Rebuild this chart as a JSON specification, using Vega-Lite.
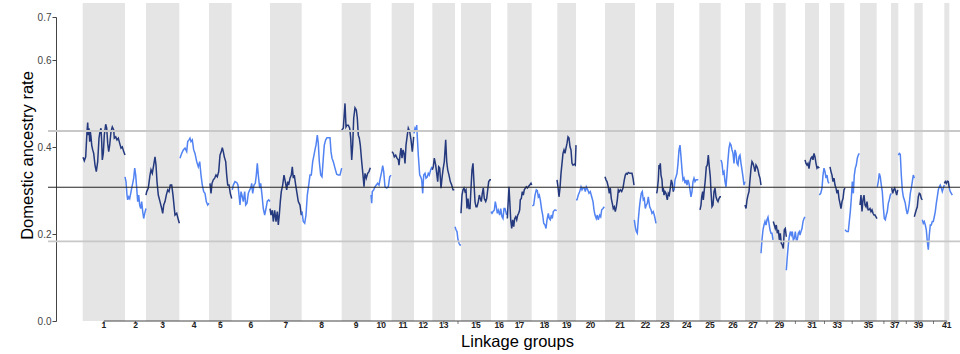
{
"$schema": "https://vega.github.io/schema/vega-lite/v6.json",
"width": 912, "height": 304,
"autosize": {"type": "none"},
"padding": {"left": 48, "top": 17, "right": 0, "bottom": 33},
"background": "white",
"config": {"view": {"stroke": null}, "font": "Liberation Sans"},
"datasets": {
"groups": [
{"group":1,"start":82.7,"end":125,"mid":103.9,"shown":true},
{"group":2,"start":125,"end":146,"mid":135.5,"shown":true},
{"group":3,"start":146,"end":179.3,"mid":162.7,"shown":true},
{"group":4,"start":179.3,"end":209,"mid":194.2,"shown":true},
{"group":5,"start":209,"end":231.7,"mid":220.4,"shown":true},
{"group":6,"start":231.7,"end":270,"mid":250.9,"shown":true},
{"group":7,"start":270,"end":301.7,"mid":285.9,"shown":true},
{"group":8,"start":301.7,"end":341.7,"mid":321.7,"shown":true},
{"group":9,"start":341.7,"end":370.7,"mid":356.2,"shown":true},
{"group":10,"start":370.7,"end":391.7,"mid":381.2,"shown":true},
{"group":11,"start":391.7,"end":414,"mid":402.9,"shown":true},
{"group":12,"start":414,"end":432.3,"mid":423.2,"shown":true},
{"group":13,"start":432.3,"end":455,"mid":443.7,"shown":true},
{"group":14,"start":455,"end":461,"mid":458,"shown":false},
{"group":15,"start":461,"end":491,"mid":476,"shown":true},
{"group":16,"start":491,"end":507.3,"mid":499.2,"shown":true},
{"group":17,"start":507.3,"end":531.7,"mid":519.5,"shown":true},
{"group":18,"start":531.7,"end":557.3,"mid":544.5,"shown":true},
{"group":19,"start":557.3,"end":576,"mid":566.7,"shown":true},
{"group":20,"start":576,"end":605,"mid":590.5,"shown":true},
{"group":21,"start":605,"end":635,"mid":620,"shown":true},
{"group":22,"start":635,"end":656,"mid":645.5,"shown":true},
{"group":23,"start":656,"end":674,"mid":665,"shown":true},
{"group":24,"start":674,"end":699.3,"mid":686.7,"shown":true},
{"group":25,"start":699.3,"end":720.7,"mid":710,"shown":true},
{"group":26,"start":720.7,"end":745,"mid":732.9,"shown":true},
{"group":27,"start":745,"end":760.7,"mid":752.9,"shown":true},
{"group":28,"start":760.7,"end":773.3,"mid":767,"shown":false},
{"group":29,"start":773.3,"end":785.7,"mid":779.5,"shown":true},
{"group":30,"start":785.7,"end":805,"mid":795.4,"shown":false},
{"group":31,"start":805,"end":819,"mid":812,"shown":true},
{"group":32,"start":819,"end":830,"mid":824.5,"shown":false},
{"group":33,"start":830,"end":844.3,"mid":837.2,"shown":true},
{"group":34,"start":844.3,"end":860,"mid":852.2,"shown":false},
{"group":35,"start":860,"end":876.7,"mid":868.4,"shown":true},
{"group":36,"start":876.7,"end":891,"mid":883.9,"shown":false},
{"group":37,"start":891,"end":898.3,"mid":894.7,"shown":true},
{"group":38,"start":898.3,"end":914.3,"mid":906.3,"shown":false},
{"group":39,"start":914.3,"end":922.7,"mid":918.5,"shown":true},
{"group":40,"start":922.7,"end":944.3,"mid":933.5,"shown":false},
{"group":41,"start":944.3,"end":949.3,"mid":946.8,"shown":true}
],
"refs": [
{"rate":0.4375,"kind":"upper"},
{"rate":0.308,"kind":"mean"},
{"rate":0.1835,"kind":"lower"}
],
"lines": [
{"group":1,"pos":83,"rate":0.377},{"group":1,"pos":84.3,"rate":0.369},{"group":1,"pos":85.7,"rate":0.378},{"group":1,"pos":87,"rate":0.436},{"group":1,"pos":87.7,"rate":0.457},{"group":1,"pos":88.3,"rate":0.428},{"group":1,"pos":89,"rate":0.444},{"group":1,"pos":89.7,"rate":0.413},{"group":1,"pos":90.3,"rate":0.436},{"group":1,"pos":91,"rate":0.424},{"group":1,"pos":91.7,"rate":0.405},{"group":1,"pos":92.7,"rate":0.394},{"group":1,"pos":93.7,"rate":0.386},{"group":1,"pos":95,"rate":0.359},{"group":1,"pos":96.3,"rate":0.344},{"group":1,"pos":97.7,"rate":0.367},{"group":1,"pos":99,"rate":0.421},{"group":1,"pos":100,"rate":0.436},{"group":1,"pos":101,"rate":0.444},{"group":1,"pos":101.7,"rate":0.413},{"group":1,"pos":102.3,"rate":0.371},{"group":1,"pos":103.3,"rate":0.386},{"group":1,"pos":104.3,"rate":0.428},{"group":1,"pos":105.7,"rate":0.453},{"group":1,"pos":106.7,"rate":0.444},{"group":1,"pos":107.7,"rate":0.409},{"group":1,"pos":108.7,"rate":0.39},{"group":1,"pos":109.7,"rate":0.405},{"group":1,"pos":111,"rate":0.436},{"group":1,"pos":112.3,"rate":0.447},{"group":1,"pos":113.7,"rate":0.44},{"group":1,"pos":114.3,"rate":0.421},{"group":1,"pos":115.7,"rate":0.424},{"group":1,"pos":117,"rate":0.417},{"group":1,"pos":118.3,"rate":0.421},{"group":1,"pos":119.7,"rate":0.409},{"group":1,"pos":121,"rate":0.398},{"group":1,"pos":122.3,"rate":0.401},{"group":1,"pos":123.7,"rate":0.39},{"group":1,"pos":125,"rate":0.382},
{"group":2,"pos":125,"rate":0.332},{"group":2,"pos":126,"rate":0.321},{"group":2,"pos":127,"rate":0.29},{"group":2,"pos":127.7,"rate":0.279},{"group":2,"pos":128.7,"rate":0.286},{"group":2,"pos":129.7,"rate":0.282},{"group":2,"pos":130.7,"rate":0.294},{"group":2,"pos":131.7,"rate":0.306},{"group":2,"pos":132.7,"rate":0.317},{"group":2,"pos":133.7,"rate":0.329},{"group":2,"pos":134.7,"rate":0.352},{"group":2,"pos":135.7,"rate":0.336},{"group":2,"pos":136.7,"rate":0.306},{"group":2,"pos":137.7,"rate":0.275},{"group":2,"pos":138.7,"rate":0.29},{"group":2,"pos":139.7,"rate":0.267},{"group":2,"pos":140.7,"rate":0.259},{"group":2,"pos":141.7,"rate":0.275},{"group":2,"pos":142.7,"rate":0.252},{"group":2,"pos":143.7,"rate":0.236},{"group":2,"pos":144.7,"rate":0.248},{"group":2,"pos":146,"rate":0.259},
{"group":3,"pos":146,"rate":0.29},{"group":3,"pos":146.7,"rate":0.298},{"group":3,"pos":148.3,"rate":0.306},{"group":3,"pos":150,"rate":0.336},{"group":3,"pos":151,"rate":0.348},{"group":3,"pos":152.3,"rate":0.34},{"group":3,"pos":153.7,"rate":0.359},{"group":3,"pos":155,"rate":0.378},{"group":3,"pos":156,"rate":0.359},{"group":3,"pos":157,"rate":0.321},{"group":3,"pos":158.3,"rate":0.29},{"group":3,"pos":160,"rate":0.275},{"group":3,"pos":161.7,"rate":0.259},{"group":3,"pos":162.7,"rate":0.248},{"group":3,"pos":163.7,"rate":0.267},{"group":3,"pos":165,"rate":0.275},{"group":3,"pos":166.3,"rate":0.29},{"group":3,"pos":167.7,"rate":0.302},{"group":3,"pos":169,"rate":0.298},{"group":3,"pos":170.3,"rate":0.313},{"group":3,"pos":171.7,"rate":0.313},{"group":3,"pos":173,"rate":0.29},{"group":3,"pos":174.3,"rate":0.259},{"group":3,"pos":175,"rate":0.244},{"group":3,"pos":176.7,"rate":0.248},{"group":3,"pos":178,"rate":0.236},{"group":3,"pos":179.3,"rate":0.225},
{"group":4,"pos":180,"rate":0.375},{"group":4,"pos":181.7,"rate":0.386},{"group":4,"pos":183.3,"rate":0.394},{"group":4,"pos":185,"rate":0.398},{"group":4,"pos":186.7,"rate":0.39},{"group":4,"pos":187.7,"rate":0.413},{"group":4,"pos":189,"rate":0.417},{"group":4,"pos":190,"rate":0.421},{"group":4,"pos":191,"rate":0.413},{"group":4,"pos":192.3,"rate":0.417},{"group":4,"pos":193.7,"rate":0.394},{"group":4,"pos":195,"rate":0.386},{"group":4,"pos":196.7,"rate":0.367},{"group":4,"pos":198.3,"rate":0.355},{"group":4,"pos":199.7,"rate":0.367},{"group":4,"pos":201,"rate":0.336},{"group":4,"pos":202.3,"rate":0.313},{"group":4,"pos":203.7,"rate":0.298},{"group":4,"pos":205,"rate":0.294},{"group":4,"pos":206.3,"rate":0.275},{"group":4,"pos":207.7,"rate":0.267},{"group":4,"pos":209,"rate":0.271},
{"group":5,"pos":210,"rate":0.317},{"group":5,"pos":211,"rate":0.294},{"group":5,"pos":212,"rate":0.317},{"group":5,"pos":213.3,"rate":0.325},{"group":5,"pos":214.7,"rate":0.329},{"group":5,"pos":216,"rate":0.336},{"group":5,"pos":217.3,"rate":0.332},{"group":5,"pos":218.7,"rate":0.344},{"group":5,"pos":220,"rate":0.382},{"group":5,"pos":221.3,"rate":0.39},{"group":5,"pos":222.3,"rate":0.399},{"group":5,"pos":223.3,"rate":0.39},{"group":5,"pos":224.3,"rate":0.378},{"group":5,"pos":225.7,"rate":0.367},{"group":5,"pos":226.7,"rate":0.336},{"group":5,"pos":227.7,"rate":0.313},{"group":5,"pos":229,"rate":0.313},{"group":5,"pos":230.3,"rate":0.294},{"group":5,"pos":231.7,"rate":0.282},
{"group":6,"pos":232.3,"rate":0.302},{"group":6,"pos":233.3,"rate":0.313},{"group":6,"pos":235,"rate":0.321},{"group":6,"pos":236.7,"rate":0.319},{"group":6,"pos":238,"rate":0.313},{"group":6,"pos":239,"rate":0.29},{"group":6,"pos":240,"rate":0.267},{"group":6,"pos":241,"rate":0.298},{"group":6,"pos":242,"rate":0.29},{"group":6,"pos":243.3,"rate":0.275},{"group":6,"pos":244.7,"rate":0.298},{"group":6,"pos":245.7,"rate":0.267},{"group":6,"pos":247,"rate":0.271},{"group":6,"pos":248.3,"rate":0.294},{"group":6,"pos":249.7,"rate":0.302},{"group":6,"pos":250.7,"rate":0.306},{"group":6,"pos":251.7,"rate":0.317},{"group":6,"pos":252.7,"rate":0.294},{"group":6,"pos":254,"rate":0.313},{"group":6,"pos":255.3,"rate":0.317},{"group":6,"pos":256.3,"rate":0.336},{"group":6,"pos":257.3,"rate":0.363},{"group":6,"pos":258.3,"rate":0.336},{"group":6,"pos":259.7,"rate":0.306},{"group":6,"pos":260.7,"rate":0.317},{"group":6,"pos":262,"rate":0.29},{"group":6,"pos":263.3,"rate":0.259},{"group":6,"pos":264.7,"rate":0.244},{"group":6,"pos":266,"rate":0.259},{"group":6,"pos":267.3,"rate":0.276},{"group":6,"pos":268.7,"rate":0.279},{"group":6,"pos":270,"rate":0.275},
{"group":7,"pos":270,"rate":0.259},{"group":7,"pos":271,"rate":0.244},{"group":7,"pos":272.3,"rate":0.255},{"group":7,"pos":273.3,"rate":0.229},{"group":7,"pos":274.7,"rate":0.255},{"group":7,"pos":276,"rate":0.229},{"group":7,"pos":277.3,"rate":0.252},{"group":7,"pos":278.3,"rate":0.221},{"group":7,"pos":279.3,"rate":0.244},{"group":7,"pos":280.3,"rate":0.275},{"group":7,"pos":281.3,"rate":0.298},{"group":7,"pos":282.7,"rate":0.313},{"group":7,"pos":284,"rate":0.336},{"group":7,"pos":285.3,"rate":0.321},{"group":7,"pos":286.7,"rate":0.302},{"group":7,"pos":287.7,"rate":0.321},{"group":7,"pos":288.7,"rate":0.313},{"group":7,"pos":290,"rate":0.329},{"group":7,"pos":291.3,"rate":0.336},{"group":7,"pos":292.3,"rate":0.355},{"group":7,"pos":293.3,"rate":0.329},{"group":7,"pos":294.3,"rate":0.336},{"group":7,"pos":295.7,"rate":0.313},{"group":7,"pos":297,"rate":0.294},{"group":7,"pos":298.3,"rate":0.275},{"group":7,"pos":300,"rate":0.267},{"group":7,"pos":301.3,"rate":0.244},{"group":7,"pos":302,"rate":0.252},
{"group":8,"pos":302,"rate":0.252},{"group":8,"pos":303.3,"rate":0.229},{"group":8,"pos":304.7,"rate":0.225},{"group":8,"pos":306,"rate":0.244},{"group":8,"pos":307.3,"rate":0.29},{"group":8,"pos":308.7,"rate":0.313},{"group":8,"pos":310,"rate":0.336},{"group":8,"pos":311.3,"rate":0.336},{"group":8,"pos":312.7,"rate":0.367},{"group":8,"pos":314,"rate":0.382},{"group":8,"pos":315.3,"rate":0.398},{"group":8,"pos":316,"rate":0.405},{"group":8,"pos":317.3,"rate":0.428},{"group":8,"pos":318.3,"rate":0.409},{"group":8,"pos":319.3,"rate":0.367},{"group":8,"pos":320.7,"rate":0.336},{"group":8,"pos":322,"rate":0.332},{"group":8,"pos":323.3,"rate":0.375},{"group":8,"pos":324.3,"rate":0.405},{"group":8,"pos":325.7,"rate":0.417},{"group":8,"pos":327,"rate":0.422},{"group":8,"pos":328.7,"rate":0.422},{"group":8,"pos":330,"rate":0.422},{"group":8,"pos":331,"rate":0.39},{"group":8,"pos":332,"rate":0.375},{"group":8,"pos":333.3,"rate":0.367},{"group":8,"pos":335,"rate":0.352},{"group":8,"pos":336.7,"rate":0.338},{"group":8,"pos":338.3,"rate":0.336},{"group":8,"pos":340,"rate":0.336},{"group":8,"pos":341.7,"rate":0.352},
{"group":9,"pos":341.7,"rate":0.44},{"group":9,"pos":343.3,"rate":0.444},{"group":9,"pos":345,"rate":0.501},{"group":9,"pos":346,"rate":0.447},{"group":9,"pos":347,"rate":0.451},{"group":9,"pos":348.3,"rate":0.451},{"group":9,"pos":349.7,"rate":0.444},{"group":9,"pos":350.7,"rate":0.421},{"group":9,"pos":351.7,"rate":0.371},{"group":9,"pos":352.7,"rate":0.405},{"group":9,"pos":353.7,"rate":0.467},{"group":9,"pos":355,"rate":0.491},{"group":9,"pos":356.3,"rate":0.486},{"group":9,"pos":357.3,"rate":0.467},{"group":9,"pos":358.3,"rate":0.428},{"group":9,"pos":359.3,"rate":0.421},{"group":9,"pos":360.3,"rate":0.405},{"group":9,"pos":361.7,"rate":0.367},{"group":9,"pos":363,"rate":0.336},{"group":9,"pos":364,"rate":0.309},{"group":9,"pos":365,"rate":0.34},{"group":9,"pos":366.3,"rate":0.329},{"group":9,"pos":367.7,"rate":0.34},{"group":9,"pos":369,"rate":0.344},{"group":9,"pos":370.3,"rate":0.353},
{"group":10,"pos":371,"rate":0.29},{"group":10,"pos":371.7,"rate":0.271},{"group":10,"pos":372.3,"rate":0.298},{"group":10,"pos":373.7,"rate":0.302},{"group":10,"pos":375,"rate":0.309},{"group":10,"pos":376.3,"rate":0.313},{"group":10,"pos":377.7,"rate":0.317},{"group":10,"pos":379,"rate":0.313},{"group":10,"pos":380.3,"rate":0.329},{"group":10,"pos":381.7,"rate":0.344},{"group":10,"pos":382.7,"rate":0.358},{"group":10,"pos":383.7,"rate":0.344},{"group":10,"pos":385,"rate":0.309},{"group":10,"pos":386.7,"rate":0.306},{"group":10,"pos":388.3,"rate":0.309},{"group":10,"pos":389.7,"rate":0.332},{"group":10,"pos":391,"rate":0.336},
{"group":11,"pos":392,"rate":0.39},{"group":11,"pos":393.3,"rate":0.386},{"group":11,"pos":394.3,"rate":0.378},{"group":11,"pos":395.7,"rate":0.382},{"group":11,"pos":397,"rate":0.375},{"group":11,"pos":398.3,"rate":0.371},{"group":11,"pos":399,"rate":0.359},{"group":11,"pos":400,"rate":0.382},{"group":11,"pos":401,"rate":0.398},{"group":11,"pos":402,"rate":0.375},{"group":11,"pos":403,"rate":0.394},{"group":11,"pos":404,"rate":0.386},{"group":11,"pos":405,"rate":0.363},{"group":11,"pos":406,"rate":0.405},{"group":11,"pos":407.3,"rate":0.428},{"group":11,"pos":408.3,"rate":0.444},{"group":11,"pos":409.7,"rate":0.436},{"group":11,"pos":411,"rate":0.417},{"group":11,"pos":412.3,"rate":0.39},{"group":11,"pos":413.7,"rate":0.424},
{"group":12,"pos":414,"rate":0.432},{"group":12,"pos":415,"rate":0.444},{"group":12,"pos":416,"rate":0.44},{"group":12,"pos":416.7,"rate":0.451},{"group":12,"pos":417.3,"rate":0.424},{"group":12,"pos":418.3,"rate":0.382},{"group":12,"pos":419.7,"rate":0.336},{"group":12,"pos":420.7,"rate":0.332},{"group":12,"pos":421.7,"rate":0.325},{"group":12,"pos":422.7,"rate":0.294},{"group":12,"pos":423.7,"rate":0.336},{"group":12,"pos":425,"rate":0.34},{"group":12,"pos":426,"rate":0.329},{"group":12,"pos":427.3,"rate":0.332},{"group":12,"pos":428.3,"rate":0.34},{"group":12,"pos":429.3,"rate":0.336},{"group":12,"pos":430.7,"rate":0.348},{"group":12,"pos":432,"rate":0.355},
{"group":13,"pos":432.3,"rate":0.348},{"group":13,"pos":433.3,"rate":0.355},{"group":13,"pos":434.3,"rate":0.375},{"group":13,"pos":435.7,"rate":0.359},{"group":13,"pos":436.7,"rate":0.34},{"group":13,"pos":437.7,"rate":0.321},{"group":13,"pos":438.7,"rate":0.355},{"group":13,"pos":439.7,"rate":0.352},{"group":13,"pos":441,"rate":0.306},{"group":13,"pos":442,"rate":0.329},{"group":13,"pos":443,"rate":0.348},{"group":13,"pos":444.3,"rate":0.367},{"group":13,"pos":445.7,"rate":0.417},{"group":13,"pos":446.7,"rate":0.367},{"group":13,"pos":447.7,"rate":0.348},{"group":13,"pos":449,"rate":0.336},{"group":13,"pos":450.3,"rate":0.321},{"group":13,"pos":451.7,"rate":0.313},{"group":13,"pos":453,"rate":0.302},{"group":13,"pos":454.3,"rate":0.302},
{"group":14,"pos":455,"rate":0.217},{"group":14,"pos":456,"rate":0.21},{"group":14,"pos":457,"rate":0.206},{"group":14,"pos":458,"rate":0.187},{"group":14,"pos":459,"rate":0.179},{"group":14,"pos":460,"rate":0.175},{"group":14,"pos":461,"rate":0.175},
{"group":15,"pos":461,"rate":0.248},{"group":15,"pos":462,"rate":0.29},{"group":15,"pos":463,"rate":0.302},{"group":15,"pos":464,"rate":0.306},{"group":15,"pos":465,"rate":0.298},{"group":15,"pos":466,"rate":0.302},{"group":15,"pos":467,"rate":0.259},{"group":15,"pos":468,"rate":0.282},{"group":15,"pos":469,"rate":0.259},{"group":15,"pos":470,"rate":0.259},{"group":15,"pos":471,"rate":0.306},{"group":15,"pos":472,"rate":0.348},{"group":15,"pos":473,"rate":0.363},{"group":15,"pos":474,"rate":0.317},{"group":15,"pos":475,"rate":0.275},{"group":15,"pos":476,"rate":0.263},{"group":15,"pos":477,"rate":0.263},{"group":15,"pos":478.3,"rate":0.275},{"group":15,"pos":479.3,"rate":0.29},{"group":15,"pos":480.3,"rate":0.282},{"group":15,"pos":481.3,"rate":0.275},{"group":15,"pos":482.3,"rate":0.294},{"group":15,"pos":483.3,"rate":0.306},{"group":15,"pos":484.3,"rate":0.282},{"group":15,"pos":485.7,"rate":0.275},{"group":15,"pos":486.7,"rate":0.282},{"group":15,"pos":487.7,"rate":0.302},{"group":15,"pos":488.7,"rate":0.321},{"group":15,"pos":490,"rate":0.325},{"group":15,"pos":491,"rate":0.325},
{"group":16,"pos":491,"rate":0.252},{"group":16,"pos":492,"rate":0.248},{"group":16,"pos":493,"rate":0.252},{"group":16,"pos":494.3,"rate":0.255},{"group":16,"pos":495.3,"rate":0.275},{"group":16,"pos":496.3,"rate":0.263},{"group":16,"pos":497.3,"rate":0.248},{"group":16,"pos":498.3,"rate":0.255},{"group":16,"pos":499.7,"rate":0.244},{"group":16,"pos":500.7,"rate":0.259},{"group":16,"pos":502,"rate":0.24},{"group":16,"pos":503,"rate":0.236},{"group":16,"pos":504,"rate":0.259},{"group":16,"pos":505,"rate":0.259},{"group":16,"pos":506.7,"rate":0.244},
{"group":17,"pos":507.3,"rate":0.236},{"group":17,"pos":508.3,"rate":0.279},{"group":17,"pos":509,"rate":0.309},{"group":17,"pos":509.7,"rate":0.279},{"group":17,"pos":510.7,"rate":0.233},{"group":17,"pos":511.7,"rate":0.213},{"group":17,"pos":512.7,"rate":0.233},{"group":17,"pos":513.7,"rate":0.217},{"group":17,"pos":514.7,"rate":0.236},{"group":17,"pos":515.7,"rate":0.24},{"group":17,"pos":516.7,"rate":0.233},{"group":17,"pos":517.7,"rate":0.244},{"group":17,"pos":518.7,"rate":0.248},{"group":17,"pos":519.7,"rate":0.256},{"group":17,"pos":520.3,"rate":0.279},{"group":17,"pos":521.3,"rate":0.282},{"group":17,"pos":522.3,"rate":0.298},{"group":17,"pos":523.3,"rate":0.29},{"group":17,"pos":524.3,"rate":0.302},{"group":17,"pos":525.3,"rate":0.306},{"group":17,"pos":526.3,"rate":0.309},{"group":17,"pos":527.3,"rate":0.306},{"group":17,"pos":528.3,"rate":0.309},{"group":17,"pos":529.7,"rate":0.313},{"group":17,"pos":531,"rate":0.317},{"group":17,"pos":531.7,"rate":0.313},
{"group":18,"pos":532.3,"rate":0.265},{"group":18,"pos":533.7,"rate":0.267},{"group":18,"pos":535,"rate":0.29},{"group":18,"pos":536.3,"rate":0.302},{"group":18,"pos":537.3,"rate":0.3},{"group":18,"pos":538.3,"rate":0.286},{"group":18,"pos":539.3,"rate":0.29},{"group":18,"pos":540.3,"rate":0.279},{"group":18,"pos":541.7,"rate":0.256},{"group":18,"pos":542.7,"rate":0.244},{"group":18,"pos":543.7,"rate":0.225},{"group":18,"pos":545,"rate":0.221},{"group":18,"pos":546,"rate":0.213},{"group":18,"pos":547,"rate":0.233},{"group":18,"pos":548.3,"rate":0.248},{"group":18,"pos":549.3,"rate":0.236},{"group":18,"pos":550.3,"rate":0.233},{"group":18,"pos":551.3,"rate":0.244},{"group":18,"pos":552.3,"rate":0.236},{"group":18,"pos":553.3,"rate":0.252},{"group":18,"pos":555,"rate":0.256},{"group":18,"pos":556.7,"rate":0.254},
{"group":19,"pos":557,"rate":0.325},{"group":19,"pos":558,"rate":0.309},{"group":19,"pos":559,"rate":0.286},{"group":19,"pos":560,"rate":0.306},{"group":19,"pos":561,"rate":0.34},{"group":19,"pos":562,"rate":0.363},{"group":19,"pos":563,"rate":0.386},{"group":19,"pos":564,"rate":0.394},{"group":19,"pos":565,"rate":0.386},{"group":19,"pos":566,"rate":0.398},{"group":19,"pos":567,"rate":0.409},{"group":19,"pos":568,"rate":0.424},{"group":19,"pos":569,"rate":0.421},{"group":19,"pos":570,"rate":0.401},{"group":19,"pos":571,"rate":0.394},{"group":19,"pos":572,"rate":0.363},{"group":19,"pos":573,"rate":0.359},{"group":19,"pos":574.3,"rate":0.361},{"group":19,"pos":575.3,"rate":0.359},{"group":19,"pos":576,"rate":0.405},
{"group":20,"pos":576,"rate":0.279},{"group":20,"pos":577,"rate":0.279},{"group":20,"pos":578.3,"rate":0.29},{"group":20,"pos":579.7,"rate":0.298},{"group":20,"pos":581,"rate":0.309},{"group":20,"pos":582,"rate":0.302},{"group":20,"pos":583,"rate":0.306},{"group":20,"pos":584.3,"rate":0.306},{"group":20,"pos":585.3,"rate":0.298},{"group":20,"pos":586.3,"rate":0.309},{"group":20,"pos":587.7,"rate":0.302},{"group":20,"pos":589,"rate":0.294},{"group":20,"pos":590.3,"rate":0.298},{"group":20,"pos":591.7,"rate":0.286},{"group":20,"pos":593,"rate":0.275},{"group":20,"pos":594,"rate":0.256},{"group":20,"pos":595,"rate":0.244},{"group":20,"pos":596.3,"rate":0.236},{"group":20,"pos":597.3,"rate":0.244},{"group":20,"pos":598.3,"rate":0.233},{"group":20,"pos":599.7,"rate":0.244},{"group":20,"pos":600.7,"rate":0.24},{"group":20,"pos":601.7,"rate":0.256},{"group":20,"pos":603,"rate":0.259},{"group":20,"pos":604.3,"rate":0.263},
{"group":21,"pos":605,"rate":0.332},{"group":21,"pos":606,"rate":0.325},{"group":21,"pos":607,"rate":0.321},{"group":21,"pos":608.3,"rate":0.309},{"group":21,"pos":609.3,"rate":0.294},{"group":21,"pos":610.3,"rate":0.306},{"group":21,"pos":611.3,"rate":0.282},{"group":21,"pos":612.3,"rate":0.271},{"group":21,"pos":613.3,"rate":0.259},{"group":21,"pos":614.3,"rate":0.263},{"group":21,"pos":615.3,"rate":0.252},{"group":21,"pos":616.3,"rate":0.263},{"group":21,"pos":617.3,"rate":0.279},{"group":21,"pos":618.3,"rate":0.302},{"group":21,"pos":619.3,"rate":0.298},{"group":21,"pos":620.3,"rate":0.302},{"group":21,"pos":621.7,"rate":0.298},{"group":21,"pos":623,"rate":0.306},{"group":21,"pos":624.3,"rate":0.325},{"group":21,"pos":625.3,"rate":0.336},{"group":21,"pos":626.3,"rate":0.34},{"group":21,"pos":627.3,"rate":0.338},{"group":21,"pos":628.3,"rate":0.342},{"group":21,"pos":629.7,"rate":0.34},{"group":21,"pos":631,"rate":0.34},{"group":21,"pos":632,"rate":0.34},{"group":21,"pos":633,"rate":0.329},{"group":21,"pos":634,"rate":0.313},
{"group":22,"pos":634.3,"rate":0.233},{"group":22,"pos":635.3,"rate":0.217},{"group":22,"pos":636.3,"rate":0.206},{"group":22,"pos":637.3,"rate":0.202},{"group":22,"pos":638.3,"rate":0.233},{"group":22,"pos":639.3,"rate":0.259},{"group":22,"pos":640.3,"rate":0.279},{"group":22,"pos":641.3,"rate":0.294},{"group":22,"pos":642.3,"rate":0.298},{"group":22,"pos":643.3,"rate":0.279},{"group":22,"pos":644.3,"rate":0.282},{"group":22,"pos":645.3,"rate":0.259},{"group":22,"pos":646.3,"rate":0.267},{"group":22,"pos":647.3,"rate":0.271},{"group":22,"pos":648.3,"rate":0.286},{"group":22,"pos":649.7,"rate":0.263},{"group":22,"pos":651,"rate":0.256},{"group":22,"pos":652,"rate":0.248},{"group":22,"pos":653.3,"rate":0.252},{"group":22,"pos":654.7,"rate":0.24},{"group":22,"pos":656,"rate":0.225},
{"group":23,"pos":656.7,"rate":0.294},{"group":23,"pos":657.3,"rate":0.302},{"group":23,"pos":658.3,"rate":0.325},{"group":23,"pos":659,"rate":0.359},{"group":23,"pos":659.7,"rate":0.355},{"group":23,"pos":660.3,"rate":0.363},{"group":23,"pos":661,"rate":0.336},{"group":23,"pos":662,"rate":0.325},{"group":23,"pos":662.7,"rate":0.298},{"group":23,"pos":663.3,"rate":0.306},{"group":23,"pos":664,"rate":0.29},{"group":23,"pos":665,"rate":0.298},{"group":23,"pos":666,"rate":0.294},{"group":23,"pos":666.7,"rate":0.286},{"group":23,"pos":667.3,"rate":0.279},{"group":23,"pos":668.3,"rate":0.294},{"group":23,"pos":669.3,"rate":0.29},{"group":23,"pos":670.3,"rate":0.306},{"group":23,"pos":671.3,"rate":0.325},{"group":23,"pos":672.3,"rate":0.317},{"group":23,"pos":673.3,"rate":0.298},{"group":23,"pos":674,"rate":0.306},
{"group":24,"pos":674,"rate":0.302},{"group":24,"pos":675,"rate":0.325},{"group":24,"pos":676,"rate":0.332},{"group":24,"pos":677,"rate":0.34},{"group":24,"pos":678,"rate":0.363},{"group":24,"pos":679,"rate":0.394},{"group":24,"pos":680,"rate":0.405},{"group":24,"pos":681,"rate":0.378},{"group":24,"pos":682,"rate":0.348},{"group":24,"pos":683,"rate":0.325},{"group":24,"pos":684,"rate":0.329},{"group":24,"pos":685,"rate":0.317},{"group":24,"pos":686,"rate":0.325},{"group":24,"pos":687,"rate":0.313},{"group":24,"pos":688,"rate":0.325},{"group":24,"pos":689,"rate":0.317},{"group":24,"pos":690,"rate":0.302},{"group":24,"pos":691,"rate":0.286},{"group":24,"pos":692,"rate":0.298},{"group":24,"pos":693,"rate":0.321},{"group":24,"pos":694,"rate":0.329},{"group":24,"pos":695,"rate":0.321},{"group":24,"pos":696,"rate":0.325},{"group":24,"pos":697,"rate":0.325},{"group":24,"pos":698.3,"rate":0.325},
{"group":25,"pos":700,"rate":0.256},{"group":25,"pos":701,"rate":0.267},{"group":25,"pos":701.7,"rate":0.286},{"group":25,"pos":702.7,"rate":0.298},{"group":25,"pos":703.3,"rate":0.279},{"group":25,"pos":704.3,"rate":0.302},{"group":25,"pos":705.3,"rate":0.325},{"group":25,"pos":706.3,"rate":0.355},{"group":25,"pos":707.3,"rate":0.359},{"group":25,"pos":708.3,"rate":0.382},{"group":25,"pos":709.3,"rate":0.355},{"group":25,"pos":710.3,"rate":0.332},{"group":25,"pos":711,"rate":0.298},{"group":25,"pos":712,"rate":0.263},{"group":25,"pos":713,"rate":0.267},{"group":25,"pos":714,"rate":0.298},{"group":25,"pos":715,"rate":0.306},{"group":25,"pos":716,"rate":0.286},{"group":25,"pos":717,"rate":0.279},{"group":25,"pos":718,"rate":0.275},{"group":25,"pos":719,"rate":0.282},{"group":25,"pos":720,"rate":0.286},{"group":25,"pos":721,"rate":0.286},
{"group":26,"pos":721,"rate":0.371},{"group":26,"pos":722,"rate":0.363},{"group":26,"pos":723,"rate":0.34},{"group":26,"pos":724,"rate":0.344},{"group":26,"pos":725,"rate":0.321},{"group":26,"pos":726,"rate":0.309},{"group":26,"pos":727,"rate":0.34},{"group":26,"pos":728,"rate":0.371},{"group":26,"pos":729,"rate":0.398},{"group":26,"pos":730,"rate":0.409},{"group":26,"pos":731,"rate":0.405},{"group":26,"pos":732,"rate":0.394},{"group":26,"pos":733,"rate":0.386},{"group":26,"pos":734,"rate":0.363},{"group":26,"pos":735,"rate":0.394},{"group":26,"pos":736,"rate":0.386},{"group":26,"pos":737,"rate":0.363},{"group":26,"pos":738,"rate":0.359},{"group":26,"pos":739,"rate":0.378},{"group":26,"pos":740,"rate":0.382},{"group":26,"pos":741,"rate":0.363},{"group":26,"pos":742,"rate":0.348},{"group":26,"pos":743,"rate":0.332},{"group":26,"pos":744,"rate":0.313},{"group":26,"pos":745,"rate":0.321},
{"group":27,"pos":745,"rate":0.267},{"group":27,"pos":746,"rate":0.259},{"group":27,"pos":747,"rate":0.279},{"group":27,"pos":748,"rate":0.29},{"group":27,"pos":749,"rate":0.298},{"group":27,"pos":750,"rate":0.325},{"group":27,"pos":751,"rate":0.351},{"group":27,"pos":752,"rate":0.367},{"group":27,"pos":753,"rate":0.363},{"group":27,"pos":754,"rate":0.355},{"group":27,"pos":755,"rate":0.344},{"group":27,"pos":756,"rate":0.359},{"group":27,"pos":757,"rate":0.355},{"group":27,"pos":758,"rate":0.348},{"group":27,"pos":759,"rate":0.336},{"group":27,"pos":760,"rate":0.329},{"group":27,"pos":761,"rate":0.313},
{"group":28,"pos":761,"rate":0.156},{"group":28,"pos":762,"rate":0.187},{"group":28,"pos":763,"rate":0.21},{"group":28,"pos":764,"rate":0.221},{"group":28,"pos":765,"rate":0.229},{"group":28,"pos":766,"rate":0.221},{"group":28,"pos":767,"rate":0.233},{"group":28,"pos":768,"rate":0.239},{"group":28,"pos":769,"rate":0.225},{"group":28,"pos":770,"rate":0.21},{"group":28,"pos":771,"rate":0.202},{"group":28,"pos":772,"rate":0.202},{"group":28,"pos":773,"rate":0.187},
{"group":29,"pos":773.3,"rate":0.229},{"group":29,"pos":774.3,"rate":0.221},{"group":29,"pos":775.3,"rate":0.213},{"group":29,"pos":776.3,"rate":0.221},{"group":29,"pos":777.3,"rate":0.202},{"group":29,"pos":778.3,"rate":0.21},{"group":29,"pos":779.3,"rate":0.187},{"group":29,"pos":780.3,"rate":0.202},{"group":29,"pos":781.3,"rate":0.179},{"group":29,"pos":782.3,"rate":0.175},{"group":29,"pos":783.3,"rate":0.167},{"group":29,"pos":784.3,"rate":0.21},{"group":29,"pos":785.3,"rate":0.213},{"group":29,"pos":786.3,"rate":0.194},
{"group":30,"pos":786.3,"rate":0.117},{"group":30,"pos":787.3,"rate":0.148},{"group":30,"pos":788.3,"rate":0.175},{"group":30,"pos":789.3,"rate":0.194},{"group":30,"pos":790.3,"rate":0.206},{"group":30,"pos":791.3,"rate":0.198},{"group":30,"pos":792.3,"rate":0.206},{"group":30,"pos":793.3,"rate":0.187},{"group":30,"pos":794.3,"rate":0.19},{"group":30,"pos":795.3,"rate":0.206},{"group":30,"pos":796.3,"rate":0.187},{"group":30,"pos":797.3,"rate":0.187},{"group":30,"pos":798.3,"rate":0.202},{"group":30,"pos":799.3,"rate":0.206},{"group":30,"pos":800,"rate":0.198},{"group":30,"pos":801,"rate":0.206},{"group":30,"pos":802,"rate":0.213},{"group":30,"pos":803,"rate":0.229},{"group":30,"pos":804,"rate":0.236},{"group":30,"pos":805,"rate":0.24},
{"group":31,"pos":805,"rate":0.371},{"group":31,"pos":806,"rate":0.363},{"group":31,"pos":807,"rate":0.359},{"group":31,"pos":808,"rate":0.363},{"group":31,"pos":809,"rate":0.351},{"group":31,"pos":810,"rate":0.367},{"group":31,"pos":811,"rate":0.375},{"group":31,"pos":812,"rate":0.378},{"group":31,"pos":813,"rate":0.371},{"group":31,"pos":814,"rate":0.386},{"group":31,"pos":815,"rate":0.378},{"group":31,"pos":816,"rate":0.363},{"group":31,"pos":817,"rate":0.352},{"group":31,"pos":818,"rate":0.355},{"group":31,"pos":819.3,"rate":0.352},
{"group":32,"pos":819.3,"rate":0.29},{"group":32,"pos":820.7,"rate":0.294},{"group":32,"pos":822,"rate":0.306},{"group":32,"pos":823,"rate":0.336},{"group":32,"pos":824,"rate":0.352},{"group":32,"pos":825,"rate":0.344},{"group":32,"pos":826,"rate":0.329},{"group":32,"pos":827,"rate":0.336},{"group":32,"pos":828,"rate":0.321},{"group":32,"pos":829,"rate":0.317},
{"group":33,"pos":830,"rate":0.355},{"group":33,"pos":831,"rate":0.344},{"group":33,"pos":832,"rate":0.336},{"group":33,"pos":833,"rate":0.321},{"group":33,"pos":834,"rate":0.329},{"group":33,"pos":835,"rate":0.313},{"group":33,"pos":836,"rate":0.306},{"group":33,"pos":837,"rate":0.294},{"group":33,"pos":838,"rate":0.302},{"group":33,"pos":839,"rate":0.282},{"group":33,"pos":840,"rate":0.271},{"group":33,"pos":841,"rate":0.259},{"group":33,"pos":842,"rate":0.275},{"group":33,"pos":843,"rate":0.282},{"group":33,"pos":844,"rate":0.302},{"group":33,"pos":845,"rate":0.306},
{"group":34,"pos":845,"rate":0.21},{"group":34,"pos":846.7,"rate":0.206},{"group":34,"pos":848.3,"rate":0.206},{"group":34,"pos":849.3,"rate":0.229},{"group":34,"pos":850.3,"rate":0.252},{"group":34,"pos":851.3,"rate":0.282},{"group":34,"pos":852.3,"rate":0.321},{"group":34,"pos":853.3,"rate":0.294},{"group":34,"pos":854.3,"rate":0.336},{"group":34,"pos":855.3,"rate":0.352},{"group":34,"pos":856.3,"rate":0.359},{"group":34,"pos":857.3,"rate":0.375},{"group":34,"pos":858.3,"rate":0.382},{"group":34,"pos":859.3,"rate":0.386},
{"group":35,"pos":860,"rate":0.267},{"group":35,"pos":861,"rate":0.29},{"group":35,"pos":862,"rate":0.252},{"group":35,"pos":863,"rate":0.279},{"group":35,"pos":864,"rate":0.29},{"group":35,"pos":865,"rate":0.267},{"group":35,"pos":866,"rate":0.263},{"group":35,"pos":867,"rate":0.275},{"group":35,"pos":868,"rate":0.256},{"group":35,"pos":869,"rate":0.256},{"group":35,"pos":870,"rate":0.259},{"group":35,"pos":871,"rate":0.252},{"group":35,"pos":872,"rate":0.256},{"group":35,"pos":873,"rate":0.248},{"group":35,"pos":874,"rate":0.244},{"group":35,"pos":875,"rate":0.244},{"group":35,"pos":876,"rate":0.24},{"group":35,"pos":877,"rate":0.236},
{"group":36,"pos":877.3,"rate":0.309},{"group":36,"pos":878.3,"rate":0.321},{"group":36,"pos":879.3,"rate":0.34},{"group":36,"pos":880.3,"rate":0.332},{"group":36,"pos":881.3,"rate":0.313},{"group":36,"pos":882.3,"rate":0.298},{"group":36,"pos":883.3,"rate":0.263},{"group":36,"pos":884.3,"rate":0.236},{"group":36,"pos":885.3,"rate":0.233},{"group":36,"pos":886.3,"rate":0.244},{"group":36,"pos":887.3,"rate":0.252},{"group":36,"pos":888.3,"rate":0.271},{"group":36,"pos":889.3,"rate":0.279},{"group":36,"pos":890.3,"rate":0.29},{"group":36,"pos":891.3,"rate":0.294},
{"group":37,"pos":891.7,"rate":0.306},{"group":37,"pos":892.7,"rate":0.294},{"group":37,"pos":893.7,"rate":0.302},{"group":37,"pos":894.7,"rate":0.306},{"group":37,"pos":895.7,"rate":0.298},{"group":37,"pos":896.7,"rate":0.29},{"group":37,"pos":897.7,"rate":0.302},
{"group":38,"pos":898.3,"rate":0.382},{"group":38,"pos":899.3,"rate":0.386},{"group":38,"pos":900.3,"rate":0.384},{"group":38,"pos":901.3,"rate":0.336},{"group":38,"pos":902.3,"rate":0.302},{"group":38,"pos":903.3,"rate":0.286},{"group":38,"pos":904.3,"rate":0.279},{"group":38,"pos":905.3,"rate":0.271},{"group":38,"pos":906.3,"rate":0.256},{"group":38,"pos":907.3,"rate":0.246},{"group":38,"pos":908.3,"rate":0.256},{"group":38,"pos":909.3,"rate":0.271},{"group":38,"pos":910.3,"rate":0.294},{"group":38,"pos":911.3,"rate":0.306},{"group":38,"pos":912.3,"rate":0.321},{"group":38,"pos":913.3,"rate":0.336},{"group":38,"pos":914.3,"rate":0.329},
{"group":39,"pos":914.3,"rate":0.24},{"group":39,"pos":915.3,"rate":0.248},{"group":39,"pos":916.3,"rate":0.256},{"group":39,"pos":917.3,"rate":0.263},{"group":39,"pos":918.3,"rate":0.286},{"group":39,"pos":919.3,"rate":0.294},{"group":39,"pos":920.3,"rate":0.292},{"group":39,"pos":921.3,"rate":0.282},{"group":39,"pos":922.3,"rate":0.279},
{"group":40,"pos":922.3,"rate":0.233},{"group":40,"pos":923.3,"rate":0.225},{"group":40,"pos":924.3,"rate":0.229},{"group":40,"pos":925.3,"rate":0.221},{"group":40,"pos":926.3,"rate":0.21},{"group":40,"pos":927.3,"rate":0.183},{"group":40,"pos":928.3,"rate":0.164},{"group":40,"pos":929.3,"rate":0.198},{"group":40,"pos":930.3,"rate":0.221},{"group":40,"pos":931.3,"rate":0.221},{"group":40,"pos":932.3,"rate":0.229},{"group":40,"pos":933.3,"rate":0.229},{"group":40,"pos":934.3,"rate":0.24},{"group":40,"pos":935.3,"rate":0.252},{"group":40,"pos":936.3,"rate":0.271},{"group":40,"pos":937.3,"rate":0.286},{"group":40,"pos":938.3,"rate":0.302},{"group":40,"pos":939.3,"rate":0.309},{"group":40,"pos":940.3,"rate":0.313},{"group":40,"pos":941.3,"rate":0.306},{"group":40,"pos":942.3,"rate":0.298},{"group":40,"pos":943.3,"rate":0.306},{"group":40,"pos":944.3,"rate":0.313},
{"group":41,"pos":944.3,"rate":0.317},{"group":41,"pos":945.3,"rate":0.321},{"group":41,"pos":946.3,"rate":0.317},{"group":41,"pos":947.3,"rate":0.322},{"group":41,"pos":948.3,"rate":0.321},{"group":41,"pos":949.3,"rate":0.306},
{"group":42,"pos":949.3,"rate":0.306},{"group":42,"pos":950.3,"rate":0.298},{"group":42,"pos":951.3,"rate":0.294},{"group":42,"pos":952.3,"rate":0.29}
]
},
"layer": [
{
"data": {"name": "groups"},
"transform": [{"filter": "datum.group % 2 == 1"}],
"mark": {"type": "rect", "color": "#e5e5e5"},
"encoding": {
"x": {"field": "start", "type": "quantitative", "title": "Linkage groups",
"scale": {"domain": [48, 960], "nice": false, "zero": false},
"axis": {"domain": false, "ticks": false, "labels": false, "grid": false,
"titleFontSize": 16.5, "titleFontWeight": "normal", "titleColor": "#000000", "titleFont": "Liberation Sans",
"titleX": 469, "titleY": 25, "titleBaseline": "alphabetic"}},
"x2": {"field": "end"},
"y": {"datum": 0, "type": "quantitative", "title": "Domestic ancestry rate",
"scale": {"domain": [0, 0.7], "nice": false, "zero": true},
"axis": {"values": [0, 0.2, 0.4, 0.6, 0.7], "format": ".1f", "grid": false, "offset": -8,
"domainColor": "#444444", "tickColor": "#444444", "tickSize": 4, "labelPadding": 1,
"labelFontSize": 10, "labelColor": "#444444", "labelFont": "Liberation Sans",
"titleFontSize": 16.5, "titleFontWeight": "normal", "titleColor": "#000000", "titleFont": "Liberation Sans",
"titleX": -24, "titleY": 138, "titleBaseline": "alphabetic"}},
"y2": {"datum": 0.732}
}
},
{
"data": {"name": "lines"},
"mark": {"type": "line", "strokeWidth": 1.5, "interpolate": "linear"},
"encoding": {
"x": {"field": "pos", "type": "quantitative", "title": "Linkage groups", "scale": {"domain": [48, 960], "nice": false, "zero": false}},
"y": {"field": "rate", "type": "quantitative", "title": "Domestic ancestry rate", "scale": {"domain": [0, 0.7], "nice": false}},
"detail": {"field": "group"},
"order": {"field": "pos"},
"color": {"condition": {"test": "datum.group % 2 == 1", "value": "#24397e"}, "value": "#5283f2"}
}
},
{
"data": {"name": "refs"},
"transform": [{"filter": "datum.kind != 'mean'"}],
"mark": {"type": "rule", "color": "#c8c8c8", "strokeWidth": 1.8},
"encoding": {
"y": {"field": "rate", "type": "quantitative", "title": "Domestic ancestry rate", "scale": {"domain": [0, 0.7], "nice": false}}
}
},
{
"data": {"name": "refs"},
"transform": [{"filter": "datum.kind == 'mean'"}],
"mark": {"type": "rule", "color": "#222222", "strokeWidth": 1},
"encoding": {
"y": {"field": "rate", "type": "quantitative", "title": "Domestic ancestry rate", "scale": {"domain": [0, 0.7], "nice": false}}
}
},
{
"data": {"name": "groups"},
"mark": {"type": "rule", "color": "#444444", "strokeWidth": 1},
"encoding": {
"x": {"aggregate": "min", "field": "mid", "type": "quantitative", "title": "Linkage groups", "scale": {"domain": [48, 960], "nice": false, "zero": false}},
"x2": {"aggregate": "max", "field": "mid"},
"y": {"datum": 0, "type": "quantitative", "scale": {"domain": [0, 0.7], "nice": false}}
}
},
{
"data": {"name": "groups"},
"mark": {"type": "tick", "orient": "vertical", "size": 3, "thickness": 1, "color": "#444444", "yOffset": 1.5},
"encoding": {
"x": {"field": "mid", "type": "quantitative", "title": "Linkage groups", "scale": {"domain": [48, 960], "nice": false, "zero": false}},
"y": {"datum": 0, "type": "quantitative", "scale": {"domain": [0, 0.7], "nice": false}}
}
},
{
"data": {"name": "groups"},
"transform": [{"filter": "datum.shown"}],
"mark": {"type": "text", "baseline": "top", "align": "center", "dy": 0, "fontSize": 8.5, "fontWeight": "bold", "color": "#222222", "font": "Liberation Sans"},
"encoding": {
"x": {"field": "mid", "type": "quantitative", "title": "Linkage groups", "scale": {"domain": [48, 960], "nice": false, "zero": false}},
"y": {"datum": 0, "type": "quantitative", "scale": {"domain": [0, 0.7], "nice": false}},
"text": {"field": "group", "type": "nominal"}
}
}
]
}
